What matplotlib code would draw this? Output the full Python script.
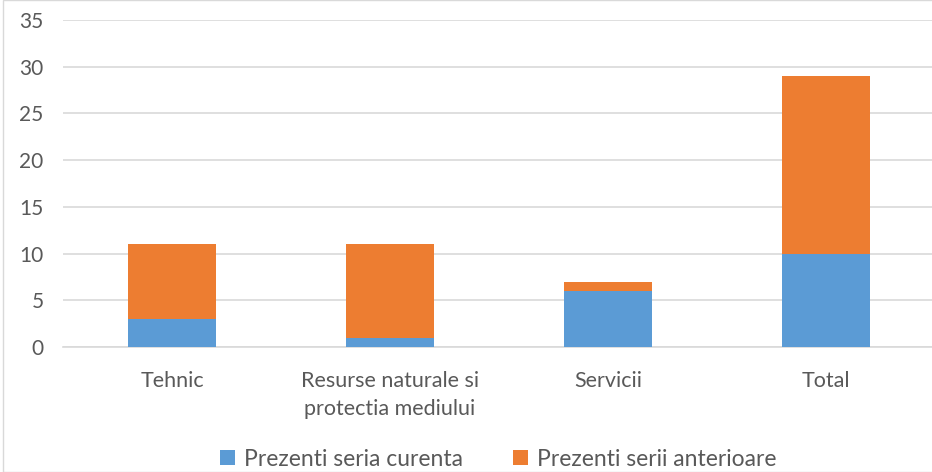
import matplotlib
matplotlib.use("Agg")
import matplotlib.pyplot as plt
from matplotlib.patches import Rectangle

categories = ["Tehnic", "Resurse naturale si\nprotectia mediului", "Servicii", "Total"]
curenta = [3, 1, 6, 10]
anterioare = [8, 10, 1, 19]
series_names = ["Prezenti seria curenta", "Prezenti serii anterioare"]
yticks = [0, 5, 10, 15, 20, 25, 30, 35]

plt.rcParams['font.family'] = ['Lato', 'DejaVu Sans']

fig = plt.figure(figsize=(9.32, 4.72), dpi=100)
ax = fig.add_axes([63/932, 1-347/472, 872/932, 327/472])
x = range(len(categories))
blue = "#5B9BD5"
orange = "#ED7D31"
ax.bar(x, curenta, width=0.4, color=blue, label=series_names[0], zorder=3)
ax.bar(x, anterioare, bottom=curenta, width=0.4, color=orange, label=series_names[1], zorder=3)
ax.set_xlim(-0.5, 3.5)
ax.set_ylim(0, 35)
ax.set_yticks(yticks)
ax.yaxis.grid(True, color="#D9D9D9", linewidth=1.2, zorder=0)
ax.set_axisbelow(True)
for s in ["top", "right", "left"]:
    ax.spines[s].set_visible(False)
ax.spines["bottom"].set_color("#D9D9D9")
ax.spines["bottom"].set_linewidth(1.2)
ax.tick_params(axis="y", length=0, colors="#595959", labelsize=15, pad=14)
ax.tick_params(axis="x", length=0, colors="#595959", labelsize=15.5, pad=17)
ax.set_xticks(list(x))
ax.set_xticklabels(categories, linespacing=1.5)

fig.legend(loc="center", bbox_to_anchor=(0.5345, 1-459/472), ncol=2, frameon=False,
           fontsize=16.5, handlelength=0.65, handleheight=0.65, columnspacing=2.2,
           handletextpad=0.4, labelcolor="#595959")
fig.patches.append(Rectangle((3/932, 0), 1, 1, transform=fig.transFigure, fill=False,
                             edgecolor="#D9D9D9", linewidth=1))
fig.savefig("out.png", dpi=100)
